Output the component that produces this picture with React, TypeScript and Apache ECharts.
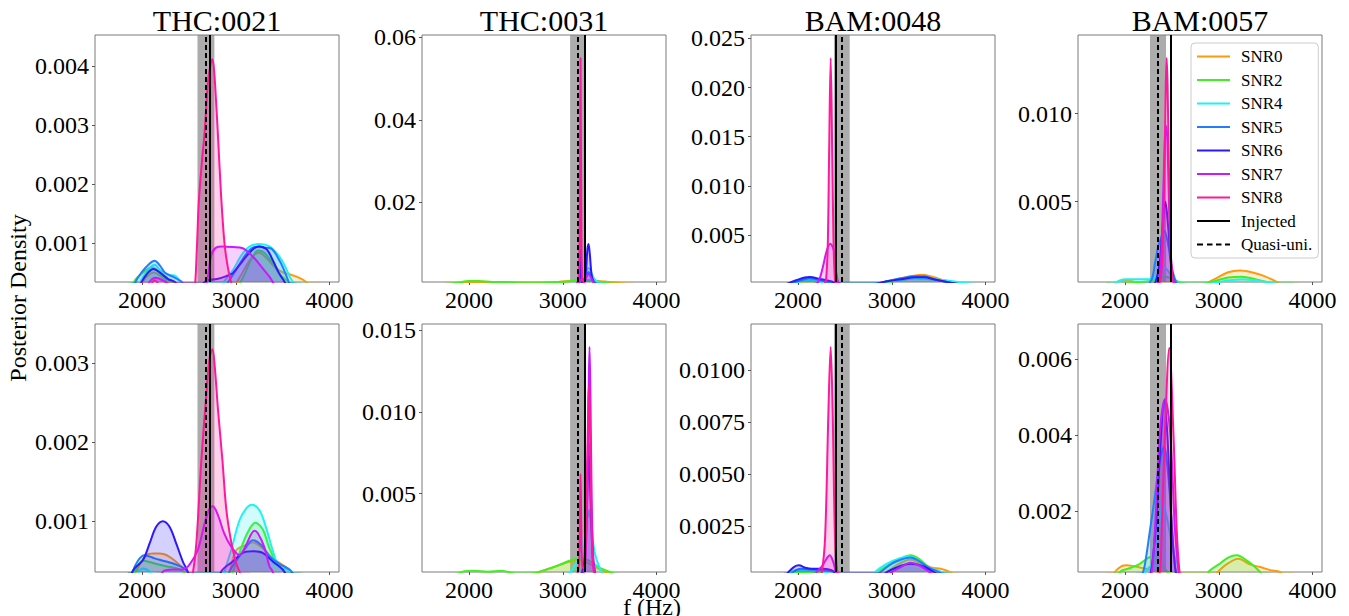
import React, { useEffect, useRef } from 'react';
import * as echarts from 'echarts';

// ---------- labels ----------
const SERIES_NAMES = ['SNR0', 'SNR2', 'SNR4', 'SNR5', 'SNR6', 'SNR7', 'SNR8'];
const COL_TITLES = ['THC:0021', 'THC:0031', 'BAM:0048', 'BAM:0057'];
const X_TICKS = [2000, 3000, 4000];

// ---------- reference frequencies per waveform (Hz) ----------
const INJECTED = [2722, 3235, 2399, 2490];
const QUASI_UNI = [2678, 3160, 2466, 2349];
const BAND_LO = [2592, 3078, 2384, 2267];
const BAND_HI = [2772, 3242, 2552, 2438];

// ---------- y ranges / ticks per panel (top row then bottom row) ----------
const Y_MIN = [0.00035, 0.00068, 0.00022, 0.00045, 0.000357, 0.0002, 0.0003, 0.0004];
const Y_MAX = [0.00452, 0.0606, 0.02534, 0.01445, 0.0035, 0.01538, 0.0122, 0.00692];
const Y_TICKS_1 = [0.001, 0.002, 0.003, 0.004];
const Y_TICKS_2 = [0.02, 0.04, 0.06];
const Y_TICKS_3 = [0.005, 0.01, 0.015, 0.02, 0.025];
const Y_TICKS_4 = [0.005, 0.01];
const Y_TICKS_5 = [0.001, 0.002, 0.003];
const Y_TICKS_6 = [0.005, 0.01, 0.015];
const Y_TICKS_7 = [0.0025, 0.005, 0.0075, 0.01];
const Y_TICKS_8 = [0.002, 0.004, 0.006];
const Y_DECIMALS = [3, 2, 3, 3, 3, 3, 4, 3];

// ---------- posterior density curves [f (Hz), density] ----------
// Panel 1: THC:0021 (top)
const p1s0 = [[1880,0],[1960,0.0002],[2040,0.00042],[2130,0.00051],[2200,0.00045],[2280,0.00036],[2360,0.0003],[2440,0.00012],[2500,0],[2850,0],[2950,0.0002],[3050,0.00045],[3150,0.00072],[3245,0.00085],[3330,0.00075],[3430,0.00058],[3520,0.0005],[3571,0.00048],[3677,0.00042],[3750,0.00035],[3820,0.0002],[3900,0]];
const p1s2 = [[1850,0],[1915,0.00035],[1990,0.00048],[2110,0.0006],[2180,0.00052],[2260,0.00038],[2330,0.00033],[2420,0.00015],[2480,0],[2950,0],[3020,0.00025],[3100,0.0005],[3170,0.00075],[3235,0.00088],[3300,0.00085],[3400,0.00066],[3480,0.00046],[3560,0.00035],[3640,0.00012],[3700,0]];
const p1s4 = [[1880,0],[1960,0.00028],[2050,0.00052],[2135,0.00064],[2200,0.00054],[2290,0.00047],[2360,0.00045],[2420,0.0003],[2480,0],[2750,0],[2850,0.0003],[2970,0.00055],[3060,0.0008],[3150,0.00095],[3245,0.00099],[3358,0.00095],[3465,0.00078],[3530,0.0006],[3571,0.00045],[3610,0.00035],[3700,0.0001],[3760,0]];
const p1s5 = [[1880,0],[1933,0.00035],[2000,0.00052],[2080,0.00066],[2135,0.00071],[2190,0.00063],[2250,0.0005],[2330,0.00044],[2400,0.00038],[2436,0.00033],[2500,0],[2780,0],[2900,0.0003],[3000,0.00055],[3100,0.0008],[3180,0.00093],[3250,0.00095],[3300,0.00093],[3370,0.00092],[3470,0.0007],[3540,0.00045],[3600,0.0002],[3650,0]];
const p1s6 = [[1900,0],[1980,0.0003],[2060,0.0005],[2125,0.00057],[2200,0.0005],[2280,0.0004],[2350,0.00035],[2420,0.0002],[2480,0],[2600,0.0002],[2684,0.00037],[2800,0.0004],[2900,0.00045],[2968,0.0005],[3070,0.0007],[3180,0.0009],[3250,0.00095],[3330,0.0009],[3400,0.0007],[3460,0.0005],[3520,0.00035],[3580,0.00015],[3620,0]];
const p1s7 = [[1980,0],[2060,0.0003],[2140,0.00042],[2220,0.00038],[2300,0.0003],[2400,0.0002],[2500,0.0001],[2620,0.00018],[2690,0.00035],[2738,0.0008],[2790,0.00093],[2860,0.00095],[2968,0.00094],[3074,0.00092],[3181,0.00078],[3287,0.00058],[3358,0.00044],[3394,0.00035],[3450,0.00018],[3500,0]];
const p1s8 = [[2000,0],[2070,0.0002],[2135,0.00038],[2220,0.0002],[2300,0],[2520,0],[2560,0.0002],[2585,0.0009],[2606,0.0017],[2640,0.0024],[2669,0.0029],[2705,0.00375],[2735,0.00405],[2751,0.00411],[2770,0.0039],[2790,0.0034],[2811,0.0028],[2844,0.0018],[2880,0.001],[2915,0.0006],[2950,0.00035],[3000,0.0001],[3050,0]];

// Panel 2: THC:0031 (top)
const p2s0 = [[1750,0],[1900,0.0004],[2050,0.0007],[2250,0.0007],[2450,0.0006],[2700,0.0005],[2950,0.0007],[3150,0.001],[3300,0.001],[3450,0.0008],[3600,0.0004],[3750,0]];
const p2s2 = [[1750,0],[1880,0.0005],[2000,0.0009],[2100,0.0009],[2250,0.0007],[2400,0.00065],[2550,0.0004],[2750,0.0004],[2950,0.0006],[3100,0.0009],[3200,0.0012],[3300,0.0011],[3400,0.0007],[3500,0.0003],[3600,0]];
const p2s4 = [[3100,0],[3180,0.0006],[3220,0.0015],[3250,0.0032],[3274,0.0041],[3300,0.0032],[3340,0.0013],[3400,0.0004],[3480,0]];
const p2s5 = [[3150,0],[3200,0.0006],[3240,0.0018],[3274,0.0031],[3300,0.0022],[3340,0.0006],[3400,0]];
const p2s6 = [[3150,0],[3172,0.001],[3185,0.0085],[3198,0.001],[3215,0.0005],[3245,0.003],[3262,0.0085],[3274,0.0099],[3288,0.0075],[3310,0.002],[3340,0]];
const p2s7 = [[3160,0],[3190,0.0012],[3230,0.0008],[3255,0.002],[3274,0.0027],[3295,0.002],[3330,0.0005],[3360,0]];
const p2s8 = [[3140,0],[3170,0.0015],[3180,0.015],[3189,0.055],[3198,0.015],[3208,0.0015],[3240,0]];

// Panel 3: BAM:0048 (top)
const p3s0 = [[1900,0],[2000,0.0002],[2100,0.0003],[2200,0.0003],[2300,0.0002],[2400,0],[2750,0],[2900,0.0002],[3050,0.0005],[3200,0.0008],[3330,0.00095],[3450,0.0007],[3550,0.0004],[3650,0.0002],[3750,0]];
const p3s2 = [[1900,0],[2050,0.0003],[2150,0.0003],[2300,0.0001],[2400,0],[2800,0],[2950,0.0002],[3100,0.0004],[3250,0.0006],[3400,0.0005],[3550,0.0003],[3700,0.0001],[3800,0]];
const p3s4 = [[1950,0],[2100,0.0004],[2200,0.00035],[2300,0.0001],[2400,0],[2750,0],[2900,0.0002],[3050,0.0004],[3250,0.0006],[3450,0.0005],[3650,0.0003],[3800,0.0001],[3900,0]];
const p3s5 = [[1900,0],[2000,0.0003],[2120,0.0006],[2250,0.0004],[2350,0.0001],[2450,0],[2800,0],[2950,0.0003],[3100,0.0006],[3250,0.0008],[3350,0.0008],[3450,0.0005],[3600,0.0002],[3700,0]];
const p3s6 = [[1880,0],[1980,0.0004],[2120,0.00072],[2250,0.0005],[2350,0.0003],[2450,0],[2800,0],[2950,0.0003],[3100,0.0005],[3250,0.0007],[3350,0.0007],[3450,0.0005],[3600,0.0002],[3700,0]];
const p3s7 = [[2180,0],[2213,0.0002],[2240,0.0008],[2267,0.0018],[2310,0.0035],[2345,0.0041],[2381,0.0035],[2400,0.0018],[2415,0.0008],[2430,0.0002],[2460,0]];
const p3s8 = [[2280,0],[2300,0.0005],[2318,0.004],[2332,0.013],[2349,0.023],[2366,0.013],[2380,0.004],[2395,0.0005],[2410,0]];

// Panel 4: BAM:0057 (top)
const p4s0 = [[1800,0],[1880,0.0003],[1950,0.0005],[2050,0.0005],[2150,0.0004],[2250,0.0003],[2400,0.0003],[2500,0.0002],[2650,0.0001],[2800,0.0002],[2950,0.0006],[3100,0.001],[3228,0.0011],[3350,0.001],[3480,0.0008],[3600,0.0005],[3720,0.0002],[3850,0]];
const p4s2 = [[1800,0],[1950,0.0003],[2100,0.0004],[2250,0.0005],[2350,0.0006],[2438,0.00075],[2520,0.0006],[2600,0.0004],[2750,0.0003],[2950,0.0005],[3100,0.0007],[3245,0.00075],[3400,0.0006],[3550,0.0004],[3700,0.0002],[3800,0]];
const p4s4 = [[1800,0],[1900,0.0004],[2000,0.0006],[2150,0.0006],[2250,0.0006],[2340,0.0008],[2400,0.0011],[2427,0.00123],[2470,0.001],[2530,0.0005],[2650,0.0003],[2850,0.0003],[3050,0.0005],[3250,0.0006],[3450,0.0005],[3650,0.0003],[3800,0]];
const p4s5 = [[2200,0],[2285,0.0006],[2320,0.0015],[2356,0.0025],[2391,0.003],[2420,0.00336],[2463,0.0025],[2498,0.0013],[2534,0.0006],[2580,0]];
const p4s6 = [[2280,0],[2330,0.0005],[2370,0.0015],[2400,0.0035],[2431,0.005],[2462,0.0035],[2490,0.0015],[2520,0.0005],[2560,0]];
const p4s7 = [[2320,0],[2370,0.0008],[2400,0.004],[2425,0.0085],[2438,0.0093],[2452,0.0085],[2475,0.004],[2505,0.0008],[2550,0]];
const p4s8 = [[2350,0],[2390,0.001],[2415,0.005],[2435,0.0115],[2445,0.01315],[2455,0.0115],[2475,0.005],[2500,0.001],[2540,0]];

// Panel 5: THC:0021 (bottom)
const p5s0 = [[1850,0],[1940,0.00036],[2046,0.00057],[2120,0.00059],[2188,0.00059],[2294,0.00055],[2400,0.00045],[2489,0.00035],[2550,0.0001],[2600,0],[2850,0],[2933,0.00035],[3004,0.00063],[3110,0.0007],[3181,0.00073],[3287,0.00066],[3394,0.00053],[3482,0.00046],[3571,0.00038],[3650,0.0002],[3720,0]];
const p5s2 = [[1850,0],[1920,0.00035],[2011,0.0005],[2117,0.00047],[2259,0.00043],[2400,0.00039],[2480,0.0003],[2550,0],[2900,0],[2968,0.00035],[3039,0.0006],[3128,0.00086],[3209,0.00098],[3287,0.0009],[3358,0.00066],[3429,0.00049],[3520,0.00035],[3600,0.0001],[3650,0]];
const p5s4 = [[1880,0],[1950,0.00033],[2011,0.0004],[2080,0.00036],[2150,0.0002],[2250,0],[2800,0],[2879,0.00036],[2950,0.00063],[3039,0.00101],[3110,0.00116],[3170,0.00121],[3252,0.00114],[3323,0.00092],[3394,0.00063],[3465,0.00042],[3589,0.00036],[3650,0.0001],[3700,0]];
const p5s5 = [[1850,0],[1904,0.00036],[1957,0.0005],[2028,0.00057],[2135,0.00053],[2259,0.00049],[2365,0.00045],[2472,0.00038],[2540,0.0002],[2600,0],[2850,0],[2933,0.00036],[3004,0.0005],[3110,0.00067],[3181,0.00076],[3270,0.0007],[3358,0.00056],[3465,0.00046],[3589,0.00037],[3650,0.0002],[3700,0]];
const p5s6 = [[1850,0],[1897,0.00036],[2011,0.00051],[2082,0.00072],[2152,0.00093],[2223,0.001],[2294,0.00093],[2365,0.00072],[2436,0.00049],[2489,0.00036],[2550,0.0001],[2600,0],[2780,0],[2844,0.00036],[2968,0.00049],[3074,0.0006],[3181,0.00062],[3287,0.0006],[3394,0.00049],[3518,0.00036],[3580,0.0001],[3620,0]];
const p5s7 = [[2150,0],[2223,0.00036],[2330,0.00039],[2436,0.00039],[2507,0.00045],[2596,0.00064],[2667,0.00097],[2720,0.00116],[2755,0.00119],[2809,0.00108],[2879,0.00084],[2950,0.00068],[3039,0.00057],[3110,0.0007],[3199,0.00088],[3234,0.00085],[3305,0.00067],[3358,0.00043],[3394,0.00036],[3440,0.0001],[3480,0]];
const p5s8 = [[2450,0],[2509,0.0002],[2545,0.00036],[2580,0.00072],[2633,0.00177],[2687,0.00262],[2722,0.00308],[2751,0.00318],[2776,0.00296],[2811,0.00241],[2858,0.00177],[2900,0.00114],[2954,0.00072],[3007,0.00046],[3043,0.00035],[3100,0.0001],[3150,0]];

// Panel 6: THC:0031 (bottom)
const p6s0 = [[2650,0],[2750,0.0002],[2900,0.0005],[3050,0.0008],[3150,0.0009],[3250,0.0008],[3350,0.0005],[3450,0.0002],[3550,0]];
const p6s2 = [[1850,0],[1950,0.00025],[2050,0.00028],[2200,0.00022],[2350,0.00028],[2500,0.0001],[2650,0.0001],[2800,0.0003],[2950,0.0006],[3080,0.0009],[3180,0.00105],[3280,0.0009],[3380,0.0005],[3480,0.00025],[3580,0]];
const p6s4 = [[3050,0],[3120,0.0005],[3180,0.0012],[3230,0.0025],[3262,0.0039],[3272,0.0036],[3282,0.004],[3305,0.003],[3340,0.0014],[3390,0.0005],[3440,0]];
const p6s5 = [[3190,0],[3225,0.0008],[3250,0.004],[3270,0.0075],[3280,0.0081],[3295,0.006],[3315,0.0015],[3340,0]];
const p6s6 = [[3200,0],[3235,0.001],[3258,0.0045],[3278,0.0073],[3298,0.0045],[3322,0.001],[3350,0]];
const p6s7 = [[3215,0],[3240,0.0008],[3258,0.004],[3275,0.011],[3285,0.01398],[3295,0.011],[3310,0.004],[3328,0.0008],[3350,0]];
const p6s8 = [[3150,0],[3172,0.0006],[3181,0.003],[3189,0.0062],[3197,0.003],[3207,0.0006],[3225,0.0004],[3240,0.0012],[3258,0.006],[3272,0.0105],[3278,0.0116],[3286,0.0105],[3298,0.006],[3315,0.0012],[3335,0]];

// Panel 7: BAM:0048 (bottom)
const p7s0 = [[1880,0],[1950,0.0002],[2050,0.0003],[2200,0.0003],[2350,0.0002],[2450,0],[2850,0],[2950,0.0003],[3080,0.0007],[3200,0.0009],[3310,0.0007],[3420,0.00052],[3530,0.00045],[3620,0.0003],[3700,0]];
const p7s2 = [[1900,0],[2000,0.0003],[2150,0.0003],[2300,0.0002],[2400,0],[2780,0],[2850,0.0003],[2950,0.0006],[3080,0.0009],[3200,0.0011],[3300,0.0009],[3400,0.0005],[3500,0.0003],[3600,0.0001],[3650,0]];
const p7s4 = [[1880,0],[1950,0.00035],[2050,0.0004],[2150,0.0004],[2250,0.00035],[2400,0.0001],[2450,0],[2760,0],[2820,0.0003],[2950,0.0007],[3080,0.00095],[3190,0.00105],[3300,0.0008],[3400,0.00048],[3500,0.00036],[3600,0.0001],[3650,0]];
const p7s5 = [[1880,0],[1950,0.0003],[2030,0.00045],[2150,0.00042],[2280,0.00038],[2380,0.0003],[2450,0],[2800,0],[2880,0.0003],[3000,0.0007],[3100,0.0009],[3200,0.001],[3300,0.0008],[3400,0.0005],[3500,0.0003],[3600,0]];
const p7s6 = [[1850,0],[1900,0.0003],[1960,0.00055],[2010,0.00062],[2080,0.0005],[2150,0.00045],[2250,0.00045],[2350,0.0004],[2420,0.0002],[2480,0],[2850,0],[2950,0.0003],[3100,0.0006],[3200,0.0007],[3320,0.0006],[3450,0.0003],[3550,0]];
const p7s7 = [[2150,0],[2200,0.0003],[2260,0.0006],[2300,0.0009],[2338,0.0011],[2375,0.0008],[2405,0.0003],[2440,0],[2900,0],[3000,0.0003],[3100,0.00055],[3200,0.00074],[3300,0.0006],[3400,0.0003],[3500,0]];
const p7s8 = [[2220,0],[2255,0.0003],[2290,0.002],[2325,0.008],[2349,0.0111],[2370,0.008],[2395,0.002],[2420,0.0003],[2450,0]];

// Panel 8: BAM:0057 (bottom)
const p8s0 = [[1800,0],[1893,0.0004],[1960,0.00055],[2020,0.00058],[2100,0.00055],[2200,0.0005],[2280,0.00045],[2350,0.0004],[2420,0.0002],[2500,0],[2850,0],[2950,0.0003],[3080,0.0006],[3210,0.00075],[3330,0.0006],[3441,0.00053],[3550,0.00045],[3655,0.0004],[3720,0.0002],[3800,0]];
const p8s2 = [[1880,0],[1947,0.0004],[2050,0.0005],[2150,0.0006],[2285,0.0008],[2350,0.0007],[2420,0.0005],[2480,0.0003],[2550,0],[2850,0],[2890,0.0004],[3000,0.0006],[3100,0.00078],[3192,0.00084],[3300,0.0007],[3400,0.0005],[3441,0.0004],[3500,0.0002],[3550,0]];
const p8s4 = [[2150,0],[2231,0.00045],[2285,0.0006],[2330,0.0011],[2370,0.0018],[2402,0.0022],[2440,0.0019],[2473,0.0015],[2520,0.0009],[2560,0.0006],[2600,0]];
const p8s5 = [[2120,0],[2180,0.0003],[2213,0.0006],[2267,0.0015],[2320,0.0024],[2370,0.0033],[2420,0.0037],[2455,0.0031],[2480,0.0024],[2510,0.0012],[2534,0.0006],[2570,0]];
const p8s6 = [[2250,0],[2300,0.0008],[2340,0.002],[2380,0.0038],[2418,0.0049],[2450,0.0041],[2490,0.002],[2530,0.0006],[2570,0]];
const p8s7 = [[2250,0],[2290,0.0005],[2320,0.0015],[2374,0.0041],[2427,0.00495],[2481,0.0041],[2534,0.0015],[2570,0.00045],[2600,0]];
const p8s8 = [[2330,0],[2374,0.00045],[2392,0.0015],[2427,0.0041],[2473,0.00629],[2516,0.0041],[2552,0.0015],[2580,0.00045],[2610,0]];

const PANEL_CURVES = [
  [p1s0, p1s2, p1s4, p1s5, p1s6, p1s7, p1s8],
  [p2s0, p2s2, p2s4, p2s5, p2s6, p2s7, p2s8],
  [p3s0, p3s2, p3s4, p3s5, p3s6, p3s7, p3s8],
  [p4s0, p4s2, p4s4, p4s5, p4s6, p4s7, p4s8],
  [p5s0, p5s2, p5s4, p5s5, p5s6, p5s7, p5s8],
  [p6s0, p6s2, p6s4, p6s5, p6s6, p6s7, p6s8],
  [p7s0, p7s2, p7s4, p7s5, p7s6, p7s7, p7s8],
  [p8s0, p8s2, p8s4, p8s5, p8s6, p8s7, p8s8],
];
const PANEL_TICKS = [Y_TICKS_1, Y_TICKS_2, Y_TICKS_3, Y_TICKS_4, Y_TICKS_5, Y_TICKS_6, Y_TICKS_7, Y_TICKS_8];

// ---------- styling ----------
const COLORS = ['#ff9a0d', '#3ef020', '#1ef2f2', '#1f7fff', '#2c18ff', '#cc18ff', '#ff189c'];
const FONT = '"Liberation Serif", "Times New Roman", serif';
const COL_LEFT = [95, 422, 751, 1078];
const PLOT_W = 244;
const ROW_TOP = [35, 324];
const ROW_H = [247, 248];

function buildOption() {
  const grid: any[] = [];
  const xAxis: any[] = [];
  const yAxis: any[] = [];
  const series: any[] = [];
  for (let p = 0; p < 8; p++) {
    const col = p % 4;
    const row = Math.floor(p / 4);
    grid.push({
      left: COL_LEFT[col], top: ROW_TOP[row], width: PLOT_W, height: ROW_H[row],
      show: true, borderColor: '#7a7a7a', borderWidth: 1, backgroundColor: 'transparent',
    });
    xAxis.push({
      type: 'value', gridIndex: p, min: 1500, max: 4100,
      axisLine: { show: false }, splitLine: { show: false },
      axisTick: { show: true, length: 3, customValues: X_TICKS, lineStyle: { color: '#555' } },
      axisLabel: {
        customValues: X_TICKS, fontFamily: FONT, fontSize: 24, color: '#000', margin: 6,
        formatter: (v: number) => String(Math.round(v)),
      },
    });
    const dec = Y_DECIMALS[p];
    yAxis.push({
      type: 'value', gridIndex: p, min: Y_MIN[p], max: Y_MAX[p],
      axisLine: { show: false }, splitLine: { show: false },
      axisTick: { show: true, length: 3, customValues: PANEL_TICKS[p], lineStyle: { color: '#555' } },
      axisLabel: {
        customValues: PANEL_TICKS[p], fontFamily: FONT, fontSize: 24, color: '#000', margin: 6,
        formatter: (v: number) => v.toFixed(dec),
      },
    });
    // grey band
    series.push({
      name: 'band', type: 'line', xAxisIndex: p, yAxisIndex: p, data: [], z: 1,
      silent: true,
      markArea: {
        silent: true,
        itemStyle: { color: 'rgba(128,128,128,0.65)' },
        data: [[{ xAxis: BAND_LO[col] }, { xAxis: BAND_HI[col] }]],
      },
    });
    PANEL_CURVES[p].forEach((d, i) => {
      series.push({
        name: SERIES_NAMES[i], type: 'line', xAxisIndex: p, yAxisIndex: p,
        data: d, smooth: 0.35, symbol: 'none', showSymbol: false, z: 2 + i * 0.01,
        color: COLORS[i],
        lineStyle: { width: 2, color: COLORS[i] },
        areaStyle: { color: COLORS[i], opacity: 0.2, origin: 'start' },
        clip: true,
      });
    });
    series.push({
      name: 'Injected', type: 'line', xAxisIndex: p, yAxisIndex: p, data: [], z: 5,
      color: '#000',
      markLine: {
        silent: true, symbol: 'none', label: { show: false },
        lineStyle: { color: '#000', width: 2, type: 'solid' },
        data: [{ xAxis: INJECTED[col] }],
      },
    });
    series.push({
      name: 'Quasi-uni.', type: 'line', xAxisIndex: p, yAxisIndex: p, data: [], z: 5,
      color: '#000',
      markLine: {
        silent: true, symbol: 'none', label: { show: false },
        lineStyle: { color: '#000', width: 2, type: [5, 3] },
        data: [{ xAxis: QUASI_UNI[col] }],
      },
    });
  }

  const solidIcon = 'path://M0,0H33V2H0Z';
  const dashIcon = 'path://M0,0H6V2H0Z M10,0H15.5V2H10Z M19,0H24.5V2H19Z M28,0H33V2H28Z';
  const legendData: any[] = SERIES_NAMES.map((n) => ({ name: n, icon: solidIcon }));
  legendData.push({ name: 'Injected', icon: solidIcon });
  legendData.push({ name: 'Quasi-uni.', icon: dashIcon });

  const graphic: any[] = COL_TITLES.map((t, c) => ({
    type: 'text', x: COL_LEFT[c] + PLOT_W / 2, y: 20,
    style: { text: t, font: `30px ${FONT}`, fill: '#000', textAlign: 'center', textVerticalAlign: 'middle', align: 'center', verticalAlign: 'middle' },
  }));
  graphic.push({
    type: 'text', x: 18, y: 298, rotation: Math.PI / 2,
    style: { text: 'Posterior Density', font: `24px ${FONT}`, fill: '#000', textAlign: 'center', textVerticalAlign: 'middle', align: 'center', verticalAlign: 'middle' },
  });
  graphic.push({
    type: 'text', x: 652, y: 607,
    style: { text: 'f (Hz)', font: `24px ${FONT}`, fill: '#000', textAlign: 'center', textVerticalAlign: 'middle', align: 'center', verticalAlign: 'middle' },
  });

  return {
    animation: false,
    backgroundColor: '#fff',
    textStyle: { fontFamily: FONT },
    grid, xAxis, yAxis, series, graphic,
    legend: {
      show: true, orient: 'vertical', left: 1191, top: 43,
      padding: [5, 6, 5, 6], itemWidth: 33, itemHeight: 14, itemGap: 6.5,
      backgroundColor: 'rgba(255,255,255,0.85)', borderColor: '#cccccc', borderWidth: 1, borderRadius: 4,
      selectedMode: false,
      itemStyle: { borderWidth: 0 },
      textStyle: { fontFamily: FONT, fontSize: 17, color: '#000', lineHeight: 17, padding: [0, 0, 0, 6] },
      data: legendData,
    },
  };
}

export default function App() {
  const ref = useRef<HTMLDivElement>(null);
  useEffect(() => {
    const chart = echarts.init(ref.current as HTMLDivElement, null, { renderer: 'svg' });
    chart.setOption(buildOption() as any);
    return () => chart.dispose();
  }, []);
  return (
    <div
      ref={ref}
      style={{ position: 'fixed', left: 0, top: 0, width: 1349, height: 616, background: '#fff' }}
    />
  );
}
